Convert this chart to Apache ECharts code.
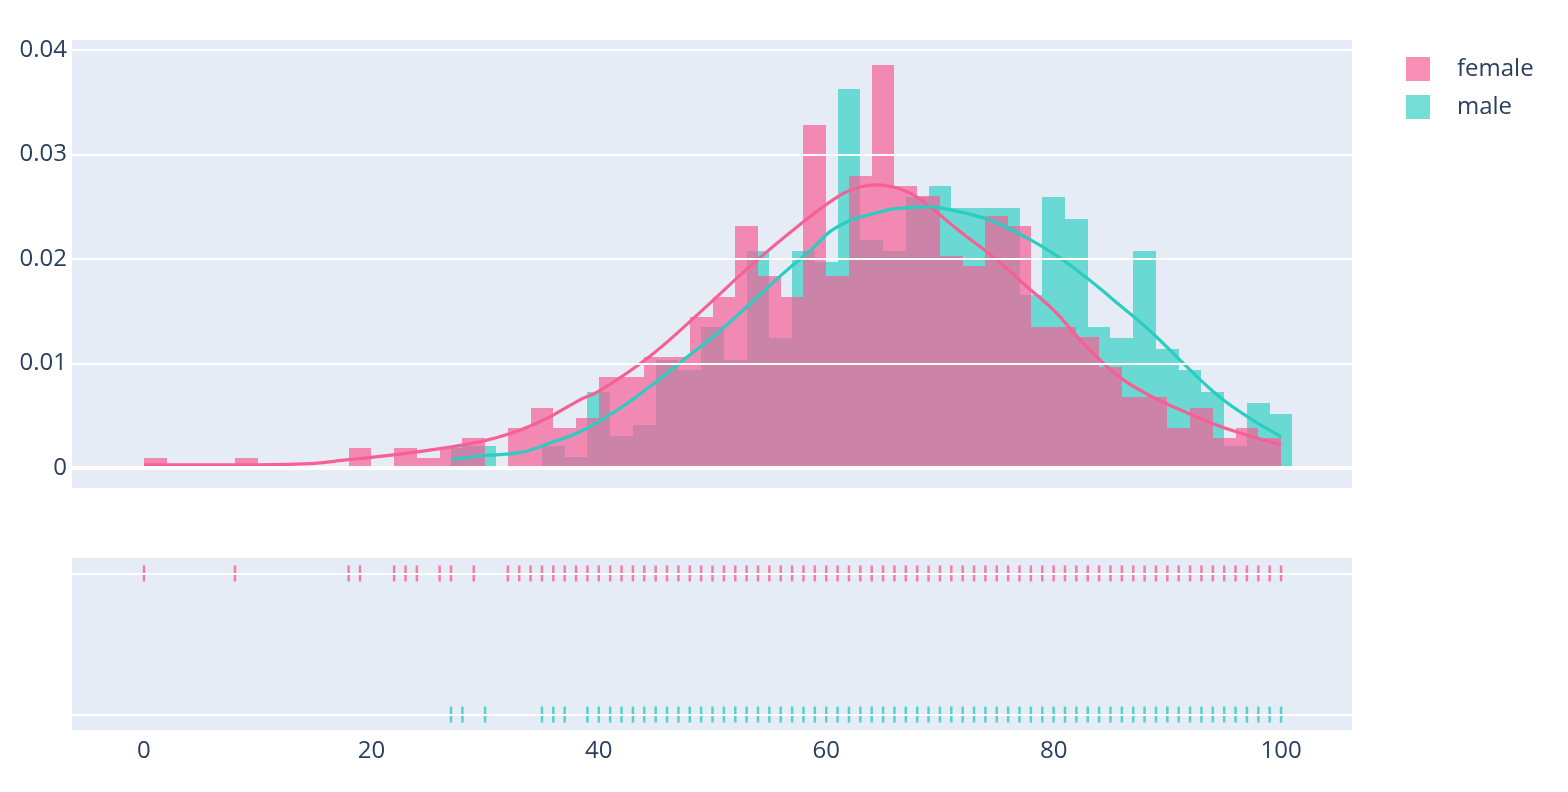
<!DOCTYPE html>
<html>
<head>
<meta charset="utf-8">
<script src="https://cdn.jsdelivr.net/npm/echarts@6/dist/echarts.min.js"></script>
<style>
  html, body { margin: 0; padding: 0; background: #ffffff; }
  #chart { width: 1568px; height: 792px; }
</style>
</head>
<body>
<div id="chart"></div>
<script>
// ---------------- DATA ----------------
const femaleBinStart = [0,2,4,6,8,10,12,14,16,18,20,22,24,26,28,30,32,34,36,38,40,42,44,46,48,50,52,54,56,58,60,62,64,66,68,70,72,74,76,78,80,82,84,86,88,90,92,94,96,98];
const femaleDensity = [0.00097,0,0,0,0.00097,0,0,0,0,0.00193,0,0.00193,0.00097,0.00193,0.0029,0,0.00386,0.00579,0.00386,0.00483,0.00869,0.00869,0.01062,0.01062,0.01448,0.01641,0.02317,0.01834,0.01641,0.03282,0.01834,0.02799,0.03861,0.02703,0.02606,0.02027,0.01931,0.02413,0.02317,0.01351,0.01351,0.01255,0.00965,0.00676,0.00676,0.00386,0.00579,0.0029,0.00386,0.0029];

const maleBinStart = [27,29,31,33,35,37,39,41,43,45,47,49,51,53,55,57,59,61,63,65,67,69,71,73,75,77,79,81,83,85,87,89,91,93,95,97,99];
const maleDensity = [0.00207,0.00207,0,0,0.00207,0.00104,0.00726,0.00311,0.00415,0.01037,0.00934,0.01349,0.01037,0.02075,0.01245,0.02075,0.01971,0.03631,0.02178,0.02075,0.02593,0.02697,0.0249,0.0249,0.0249,0.0166,0.02593,0.02386,0.01349,0.01245,0.02075,0.01141,0.00934,0.00726,0.00207,0.00622,0.00519];

const binWidth = 2;

const femaleKdeX = [0,8,14,18,22.3,26.9,29.9,32.2,33.9,35.7,38.3,40.1,44.5,48.9,53.3,57.7,61.2,63.0,64.5,65.9,67.4,68.9,71.8,74.7,77.7,80.0,82.9,85.8,88.7,91.7,94.6,97.5,100];
const femaleKdeY = [0.0003,0.0003,0.0004,0.0008,0.0013,0.0020,0.0026,0.0033,0.0040,0.0049,0.0065,0.0074,0.0107,0.0149,0.0193,0.0233,0.0261,0.0269,0.0271,0.0269,0.0263,0.0252,0.0226,0.0202,0.0173,0.0151,0.0116,0.0087,0.0068,0.0053,0.0040,0.0030,0.0022];

const maleKdeX = [27.0,29.9,33.2,35.7,38.4,41.7,44.5,47.4,50.4,53.3,56.2,58.8,60.3,62.1,63.0,64.7,65.9,68.9,71.8,74.7,77.7,80.3,82.9,85.8,88.7,91.7,94.6,97.5,100];
const maleKdeY = [0.0008,0.0012,0.0015,0.0024,0.0035,0.0056,0.0078,0.0103,0.0129,0.0157,0.0186,0.0210,0.0226,0.0237,0.0240,0.0245,0.0248,0.0250,0.0245,0.0236,0.0220,0.0203,0.0182,0.0156,0.0129,0.0097,0.0068,0.0046,0.0030];

const femaleRug = [0,8,18,19,22,23,24,26,27,29,32,33,34,35,36,37,38,39,40,41,42,43,44,45,46,47,48,49,50,51,52,53,54,55,56,57,58,59,60,61,62,63,64,65,66,67,68,69,70,71,72,73,74,75,76,77,78,79,80,81,82,83,84,85,86,87,88,89,90,91,92,93,94,95,96,97,98,99,100];
const maleRug = [27,28,30,35,36,37,39,40,41,42,43,44,45,46,47,48,49,50,51,52,53,54,55,56,57,58,59,60,61,62,63,64,65,66,67,68,69,70,71,72,73,74,75,76,77,78,79,80,81,82,83,84,85,86,87,88,89,90,91,92,93,94,95,96,97,98,99,100];

const yTickValues = [0, 0.01, 0.02, 0.03, 0.04];
const yTickLabels = ['0', '0.01', '0.02', '0.03', '0.04'];
const xTickValues = [0, 20, 40, 60, 80, 100];
const groupNames = ['female', 'male'];
const rugLevel = { female: 1, male: 0 };

// ---------------- STYLE ----------------
const PINK = '#F66095';
const TEAL = '#2BCDC1';
const PINK_BAR = 'rgba(246,96,149,0.7)';
const TEAL_BAR = 'rgba(43,205,193,0.66)';
const TEXT = '#2a3f5f';
const FONT = '"Open Sans", "DejaVu Sans", sans-serif';

const X_MIN = -6.33, X_MAX = 106.24;

function binData(starts, dens) {
  return starts.map((s, i) => [s, s + binWidth, dens[i]]);
}
function zip(xs, ys) { return xs.map((x, i) => [x, ys[i]]); }

function renderBar(params, api) {
  const x0 = api.value(0), x1 = api.value(1), h = api.value(2);
  if (!h) return null;
  const p0 = api.coord([x0, h]);
  const p1 = api.coord([x1, 0]);
  const left = Math.round(p0[0]), right = Math.round(p1[0]);
  const top = Math.round(p0[1]), bottom = Math.round(p1[1]);
  return {
    type: 'rect',
    shape: { x: left, y: top, width: right - left, height: bottom - top },
    style: { fill: api.visual('color'), lineWidth: 0 }
  };
}

const gridLineSeries = (xi, yi, vals, widths) => ({
  type: 'line', xAxisIndex: xi, yAxisIndex: yi, data: [], silent: true, z: 1,
  markLine: {
    silent: true, symbol: 'none', animation: false,
    label: { show: false },
    data: vals.map((v, i) => ({ yAxis: v, lineStyle: { color: '#ffffff', width: widths[i], type: 'solid' } }))
  }
});

const chart = echarts.init(document.getElementById('chart'), null, { renderer: 'canvas' });

const option = {
  backgroundColor: '#ffffff',
  animation: false,
  textStyle: { fontFamily: FONT },
  legend: {
    data: [{ name: groupNames[0], icon: 'rect' }, { name: groupNames[1], icon: 'rect' }],
    orient: 'vertical',
    left: 1401, top: 52,
    itemWidth: 24, itemHeight: 24, itemGap: 14,
    textStyle: { fontSize: 24, color: TEXT, fontFamily: FONT, padding: [0, 0, 0, 22] }
  },
  grid: [
    { left: 72, top: 40, width: 1280, height: 448, show: true, backgroundColor: '#E5ECF6', borderWidth: 0 },
    { left: 72, top: 558, width: 1280, height: 172, show: true, backgroundColor: '#E5ECF6', borderWidth: 0 }
  ],
  xAxis: [
    { type: 'value', gridIndex: 0, min: X_MIN, max: X_MAX,
      axisLabel: { show: false }, axisLine: { show: false }, axisTick: { show: false }, splitLine: { show: false } },
    { type: 'value', gridIndex: 1, min: X_MIN, max: X_MAX,
      axisLine: { show: false }, axisTick: { show: false }, splitLine: { show: false },
      axisLabel: { customValues: xTickValues, fontSize: 24, color: TEXT, fontFamily: FONT, margin: 9 } }
  ],
  yAxis: [
    { type: 'value', gridIndex: 0, min: -0.00191, max: 0.04096,
      axisLine: { show: false }, axisTick: { show: false }, splitLine: { show: false },
      axisLabel: { customValues: yTickValues, fontSize: 24, color: TEXT, fontFamily: FONT, margin: 5,
        formatter: v => { const i = yTickValues.findIndex(t => Math.abs(t - v) < 1e-9); return i >= 0 ? yTickLabels[i] : ''; } } },
    { type: 'value', gridIndex: 1, min: -0.11, max: 1.11,
      axisLine: { show: false }, axisTick: { show: false }, splitLine: { show: false },
      axisLabel: { show: false } }
  ],
  series: [
    gridLineSeries(0, 0, yTickValues, yTickValues.map(v => v === 0 ? 4 : 2)),
    gridLineSeries(1, 1, [0, 1], [2, 2]),
    {
      name: 'male', type: 'custom', xAxisIndex: 0, yAxisIndex: 0, z: 2,
      renderItem: renderBar, itemStyle: { color: TEAL_BAR },
      encode: { x: [0, 1], y: 2 },
      data: binData(maleBinStart, maleDensity)
    },
    {
      name: 'female', type: 'custom', xAxisIndex: 0, yAxisIndex: 0, z: 2,
      renderItem: renderBar, itemStyle: { color: PINK_BAR },
      encode: { x: [0, 1], y: 2 },
      data: binData(femaleBinStart, femaleDensity)
    },
    {
      name: 'female kde', type: 'line', xAxisIndex: 0, yAxisIndex: 0, z: 3,
      data: zip(femaleKdeX, femaleKdeY), showSymbol: false, symbol: 'none',
      smooth: 0.4,
      lineStyle: { color: PINK, width: 3.2 }
    },
    {
      name: 'male kde', type: 'line', xAxisIndex: 0, yAxisIndex: 0, z: 3,
      data: zip(maleKdeX, maleKdeY), showSymbol: false, symbol: 'none',
      smooth: 0.4,
      lineStyle: { color: TEAL, width: 3.2 }
    },
    {
      name: 'female rug', type: 'scatter', xAxisIndex: 1, yAxisIndex: 1, z: 3,
      symbol: 'rect', symbolSize: [2.5, 16], itemStyle: { color: PINK },
      data: femaleRug.map(v => [v, rugLevel.female])
    },
    {
      name: 'male rug', type: 'scatter', xAxisIndex: 1, yAxisIndex: 1, z: 3,
      symbol: 'rect', symbolSize: [2.5, 16], itemStyle: { color: TEAL },
      data: maleRug.map(v => [v, rugLevel.male])
    }
  ]
};
chart.setOption(option);
</script>
</body>
</html>
